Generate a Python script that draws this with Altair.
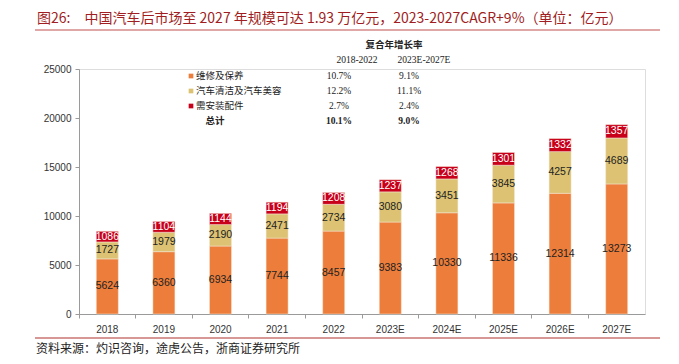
import altair as alt
import pandas as pd

years = ["2018", "2019", "2020", "2021", "2022", "2023E", "2024E", "2025E", "2026E", "2027E"]
repair = [5624, 6360, 6934, 7744, 8457, 9383, 10330, 11336, 12314, 13273]
cleaning = [1727, 1979, 2190, 2471, 2734, 3080, 3451, 3845, 4257, 4689]
parts = [1086, 1104, 1144, 1194, 1208, 1237, 1268, 1301, 1332, 1357]

series_names = ["维修及保养", "汽车清洁及汽车美容", "需安装配件"]
colors = ["#ED7D3A", "#DCC272", "#C8001A"]
label_colors = ["#222222", "#222222", "#FFFFFF"]

cagr_head = ["2018-2022", "2023E-2027E"]
cagr_1 = ["10.7%", "12.2%", "2.7%", "10.1%"]
cagr_2 = ["9.1%", "11.1%", "2.4%", "9.0%"]
row_names = series_names + ["总计"]

title_text = "图26:\u3000中国汽车后市场至 2027 年规模可达 1.93 万亿元，2023-2027CAGR+9%（单位：亿元）"
source_text = "资料来源：灼识咨询，途虎公告，浙商证券研究所"

rows = []
for i, y in enumerate(years):
    base = 0
    for k, vals in enumerate([repair, cleaning, parts]):
        v = vals[i]
        rows.append({"year": y, "series": series_names[k], "value": v, "order": k,
                     "mid": base + v / 2, "lcolor": label_colors[k]})
        base += v
df = pd.DataFrame(rows)

W, H = 566, 245
FONT = "Liberation Sans"
CJK = "Noto Sans CJK SC"

xenc = alt.X("year:N", sort=years, title=None,
             scale=alt.Scale(paddingInner=0, paddingOuter=0),
             axis=alt.Axis(labelAngle=0, bandPosition=0, ticks=True, tickSize=4,
                           domainColor="#9A9A9A", tickColor="#9A9A9A",
                           labelColor="#333333", labelFont=FONT, labelFontSize=10,
                           labelPadding=6, labelFlush=False, grid=False))
yenc = alt.Y("value:Q", stack="zero", title=None,
             scale=alt.Scale(domain=[0, 25000], nice=False),
             axis=alt.Axis(values=[0, 5000, 10000, 15000, 20000, 25000], tickSize=4,
                           format="d",
                           domainColor="#9A9A9A", tickColor="#9A9A9A",
                           labelColor="#333333", labelFont=FONT, labelFontSize=10,
                           labelPadding=4, grid=False))

color = alt.Color("series:N", sort=series_names, legend=None,
                  scale=alt.Scale(domain=series_names, range=colors))

bars = alt.Chart(df).mark_bar(size=22, stroke="#F4E9D8", strokeWidth=0.5).encode(
    x=xenc, y=yenc, color=color, order=alt.Order("order:Q"))

labels = alt.Chart(df).mark_text(font=FONT, fontSize=10.5, baseline="middle").encode(
    x=alt.X("year:N", sort=years),
    y=alt.Y("mid:Q"),
    text=alt.Text("value:Q", format="d"),
    color=alt.Color("lcolor:N", scale=None, legend=None))

layers = [bars, labels]

dummy = pd.DataFrame({"a": [0]})

def txt(s, x, y, size=10, font=CJK, color="#222222", align="left", weight="normal"):
    return alt.Chart(dummy).mark_text(text=s, font=font, fontSize=size, color=color,
                                      align=align, baseline="middle", fontWeight=weight).encode(
        x=alt.value(x), y=alt.value(y))

# Title and lines (plot origin at page (79, 69))
ox, oy = 79, 69
layers.append(txt(title_text, 37 - ox, 18.5 - oy, size=14, color="#A01D22"))
layers.append(alt.Chart(dummy).mark_rule(color="#C0504D", strokeWidth=1.2).encode(
    x=alt.value(35 - ox), x2=alt.value(660 - ox), y=alt.value(30 - oy)))
layers.append(alt.Chart(dummy).mark_rule(color="#B0302D", strokeWidth=1.2).encode(
    x=alt.value(35 - ox), x2=alt.value(660 - ox), y=alt.value(338 - oy)))
layers.append(txt(source_text, 36 - ox, 348.5 - oy, size=12, color="#222222"))

# CAGR table
layers.append(txt("复合年增长率", 394 - ox, 45 - oy, size=9.5, align="center", weight="bold"))
layers.append(txt(cagr_head[0], 357 - ox, 60 - oy, size=9.5, font="Liberation Serif", align="center"))
layers.append(txt(cagr_head[1], 424 - ox, 60 - oy, size=9.5, font="Liberation Serif", align="center"))
row_y = [76, 91, 106, 121]
for r in range(4):
    yy = row_y[r] - oy
    if r < 3:
        layers.append(alt.Chart(dummy).mark_square(size=22, color=colors[r], opacity=1).encode(
            x=alt.value(191 - ox), y=alt.value(yy)))
        layers.append(txt(row_names[r], 196 - ox, yy, size=9.5))
        w = "normal"
    else:
        layers.append(txt(row_names[r], 215 - ox, yy, size=9.5, align="center", weight="bold"))
        w = "bold"
    layers.append(txt(cagr_1[r], 339 - ox, yy, size=9.5, font="Liberation Serif", align="center", weight=w))
    layers.append(txt(cagr_2[r], 409 - ox, yy, size=9.5, font="Liberation Serif", align="center", weight=w))

chart = alt.layer(*layers).properties(
    width=W, height=H,
    padding={"left": ox - 8, "top": oy - 8, "right": 663 - (ox - 8) - W, "bottom": 348 - (oy - 8) - H},
    autosize=alt.AutoSizeParams(type="none"),
).configure_view(stroke=None).configure(background="white")

chart.save("out.html", embed_options={"renderer": "svg", "actions": False})
